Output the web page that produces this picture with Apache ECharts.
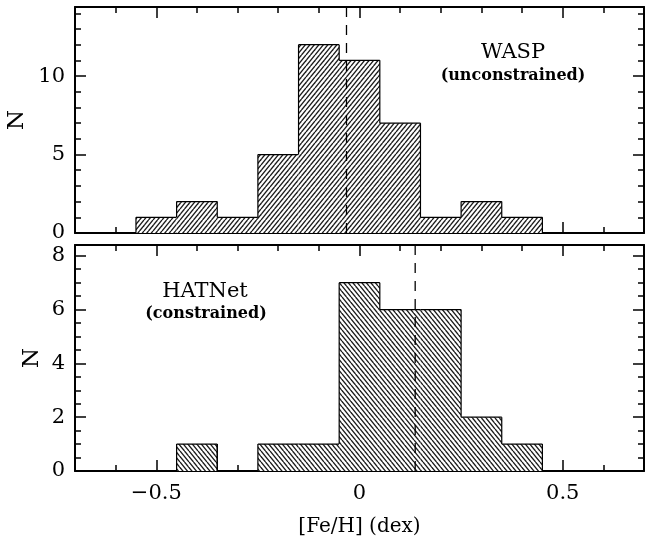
<!DOCTYPE html>
<html>
<head>
<meta charset="utf-8">
<script src="https://cdn.jsdelivr.net/npm/echarts@6/dist/echarts.min.js"></script>
<style>
html,body{margin:0;padding:0;background:#fff;}
#chart{width:645px;height:538px;}
</style>
</head>
<body>
<div id="chart"></div>
<script>
// ---- data ----
const binLeft  = [-0.55,-0.45,-0.35,-0.25,-0.15,-0.05,0.05,0.15,0.25,0.35];
const binWidth = 0.1;
const waspCounts   = [1,2,1,5,12,11,7,1,2,1];
const hatnetCounts = [0,1,0,1,1,7,6,6,2,1];
const waspMean   = -0.032;
const hatnetMean = 0.137;
const xMajorTicks = [-0.5,0,0.5];
const xMinorTicks = [-0.6,-0.4,-0.3,-0.2,-0.1,0.1,0.2,0.3,0.4,0.6];
const waspYMajor = [0,5,10];
const waspYMinor = [1,2,3,4,6,7,8,9,11,12,13,14];
const hatYMajor = [0,2,4,6,8];
const hatYMinor = [0.5,1,1.5,2.5,3,3.5,4.5,5,5.5,6.5,7,7.5];
const waspYMax = 14.4;
const hatYMax = 8.4;
const xMin = -0.7, xMax = 0.7;

const FONT = 'DejaVu Serif';

function makeHatch(dir){
  const w=9,h=11;
  const c=document.createElement('canvas'); c.width=w; c.height=h;
  const ctx=c.getContext('2d');
  ctx.fillStyle='#fff'; ctx.fillRect(0,0,w,h);
  ctx.strokeStyle='#1a1a1a'; ctx.lineWidth=1.35;
  for(let k=-4;k<=4;k++){
    const s=k*4.5;
    ctx.beginPath();
    if(dir>0){ ctx.moveTo(s,h); ctx.lineTo(s+w,0); }
    else { ctx.moveTo(s,0); ctx.lineTo(s+w,h); }
    ctx.stroke();
  }
  return c;
}
const hatchUp = {image: makeHatch(1), repeat:'repeat'};
const hatchDown = {image: makeHatch(-1), repeat:'repeat'};

function histData(counts){
  return counts.map((n,i)=>[binLeft[i], binLeft[i]+binWidth, n,
     i>0?counts[i-1]:0, i<counts.length-1?counts[i+1]:0]);
}

function renderHist(pattern){
  return function(params, api){
    const x0=api.value(0), x1=api.value(1), n=api.value(2), prev=api.value(3), next=api.value(4);
    const pb=api.coord([x0,0]), pt=api.coord([x1,n]);
    const yPrev=api.coord([x0,prev])[1];
    const children=[];
    const ls={stroke:'#000', lineWidth:1.2};
    if(n>0){
      children.push({type:'rect', shape:{x:pb[0], y:pt[1], width:pt[0]-pb[0], height:pb[1]-pt[1]}, style:{fill:pattern}});
      children.push({type:'line', shape:{x1:pb[0], y1:pt[1], x2:pt[0], y2:pt[1]}, style:ls});
      if(next===0){
        children.push({type:'line', shape:{x1:pt[0], y1:pt[1], x2:pt[0], y2:pb[1]}, style:ls});
      }
    }
    if(prev!==n){
      children.push({type:'line', shape:{x1:pb[0], y1:yPrev, x2:pb[0], y2:pt[1]}, style:ls});
    }
    return {type:'group', children};
  };
}

const tickStyle={color:'#000', width:1.5};
function fmt(v){ if(Math.abs(v)<1e-9) return '0'; return (v<0?'\u2212':'')+String(Math.abs(v)); }

function xAxes(g, showLabels){
  const base={gridIndex:g, type:'value', min:xMin, max:xMax, splitLine:{show:false}};
  return [
    Object.assign({}, base, {position:'bottom',
      axisLine:{show:true, onZero:false, lineStyle:{color:'#000', width:2}},
      axisTick:{show:true, inside:true, length:11, customValues:xMajorTicks, lineStyle:tickStyle},
      axisLabel:{show:showLabels, customValues:xMajorTicks, formatter:fmt, fontFamily:FONT, fontSize:21, color:'#000', margin:12},
      name: showLabels?'[Fe/H] (dex)':'', nameLocation:'middle', nameGap:46, nameMoveOverlap:false,
      nameTextStyle:{fontFamily:FONT, fontSize:20, color:'#000'}}),
    Object.assign({}, base, {position:'bottom',
      axisLine:{show:false, onZero:false},
      axisTick:{show:true, inside:true, length:6, customValues:xMinorTicks, lineStyle:tickStyle},
      axisLabel:{show:false}}),
    Object.assign({}, base, {position:'top',
      axisLine:{show:true, onZero:false, lineStyle:{color:'#000', width:2}},
      axisTick:{show:true, inside:true, length:11, customValues:xMajorTicks, lineStyle:tickStyle},
      axisLabel:{show:false}}),
    Object.assign({}, base, {position:'top',
      axisLine:{show:false, onZero:false},
      axisTick:{show:true, inside:true, length:6, customValues:xMinorTicks, lineStyle:tickStyle},
      axisLabel:{show:false}})
  ];
}
function yAxes(g, ymax, major, minor, gap){
  const base={gridIndex:g, type:'value', min:0, max:ymax, splitLine:{show:false}};
  return [
    Object.assign({}, base, {position:'left',
      axisLine:{show:true, onZero:false, lineStyle:{color:'#000', width:2}},
      axisTick:{show:true, inside:true, length:11, customValues:major, lineStyle:tickStyle},
      axisLabel:{show:true, customValues:major, formatter:fmt, fontFamily:FONT, fontSize:21, color:'#000', margin:10},
      name:'N', nameLocation:'middle', nameGap:gap, nameRotate:90, nameMoveOverlap:false,
      nameTextStyle:{fontFamily:FONT, fontSize:23, color:'#000'}}),
    Object.assign({}, base, {position:'left',
      axisLine:{show:false, onZero:false},
      axisTick:{show:true, inside:true, length:6, customValues:minor, lineStyle:tickStyle},
      axisLabel:{show:false}}),
    Object.assign({}, base, {position:'right',
      axisLine:{show:true, onZero:false, lineStyle:{color:'#000', width:2}},
      axisTick:{show:true, inside:true, length:11, customValues:major, lineStyle:tickStyle},
      axisLabel:{show:false}}),
    Object.assign({}, base, {position:'right',
      axisLine:{show:false, onZero:false},
      axisTick:{show:true, inside:true, length:6, customValues:minor, lineStyle:tickStyle},
      axisLabel:{show:false}})
  ];
}

const chart = echarts.init(document.getElementById('chart'), null, {renderer:'canvas'});
chart.setOption({
  animation:false,
  backgroundColor:'#fff',
  grid:[
    {left:75, top:7, width:569, height:226, containLabel:false, outerBoundsMode:'none'},
    {left:75, top:245, width:569, height:226, containLabel:false, outerBoundsMode:'none'}
  ],
  xAxis:[].concat(xAxes(0,false), xAxes(1,true)),
  yAxis:[].concat(yAxes(0,waspYMax,waspYMajor,waspYMinor,46), yAxes(1,hatYMax,hatYMajor,hatYMinor,31)),
  series:[
    {type:'custom', xAxisIndex:0, yAxisIndex:0, data:histData(waspCounts), renderItem:renderHist(hatchUp), silent:true},
    {type:'custom', xAxisIndex:4, yAxisIndex:4, data:histData(hatnetCounts), renderItem:renderHist(hatchDown), silent:true},
    {type:'line', xAxisIndex:0, yAxisIndex:0, data:[[waspMean,0],[waspMean,waspYMax]], symbol:'none', silent:true,
      lineStyle:{color:'#000', width:1.3, type:[10,8]}},
    {type:'line', xAxisIndex:4, yAxisIndex:4, data:[[hatnetMean,0],[hatnetMean,hatYMax]], symbol:'none', silent:true,
      lineStyle:{color:'#000', width:1.3, type:[10,8]}}
  ],
  graphic:[
    {type:'text', x:513, y:53, style:{text:'WASP', font:'21px "DejaVu Serif"', fill:'#000', textAlign:'center', textVerticalAlign:'middle'}},
    {type:'text', x:513, y:76, style:{text:'(unconstrained)', font:'bold 16px "DejaVu Serif"', fill:'#000', textAlign:'center', textVerticalAlign:'middle'}},
    {type:'text', x:205, y:292, style:{text:'HATNet', font:'21px "DejaVu Serif"', fill:'#000', textAlign:'center', textVerticalAlign:'middle'}},
    {type:'text', x:206, y:314, style:{text:'(constrained)', font:'bold 16px "DejaVu Serif"', fill:'#000', textAlign:'center', textVerticalAlign:'middle'}}
  ]
});
</script>
</body>
</html>
